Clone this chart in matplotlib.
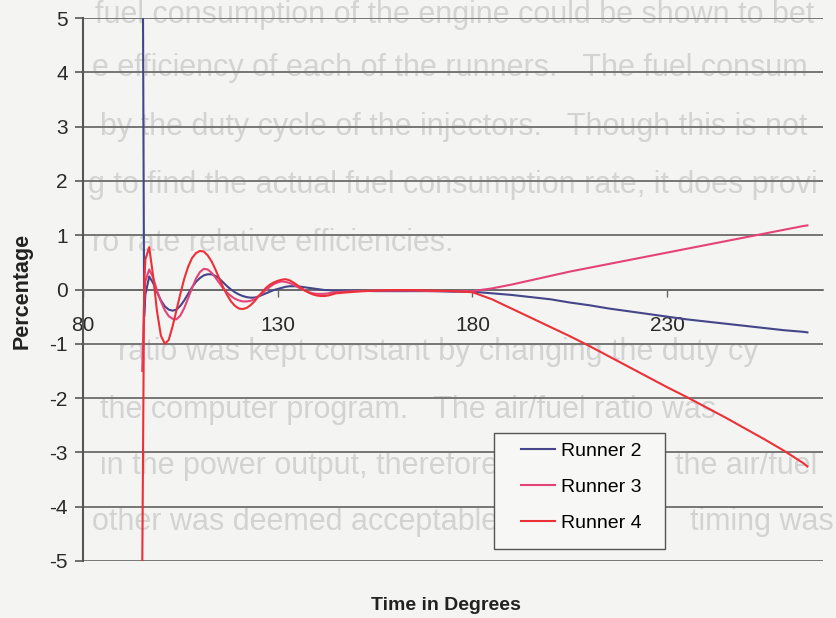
import matplotlib
matplotlib.use("Agg")
import matplotlib.pyplot as plt
from matplotlib.patches import Rectangle

plt.rcParams['font.family'] = ['Liberation Sans', 'DejaVu Sans']
plt.rcParams['axes.unicode_minus'] = False

# Crank angle (degrees)
degrees = [95.2, 95.7, 96, 97, 98, 99, 100, 101, 102, 103, 104, 105, 106, 107, 108,
           109, 110, 111, 112, 113, 114, 115, 116, 117, 118, 119, 120, 121, 122,
           123, 124, 125, 126, 127, 128, 129, 130, 131, 132, 133, 134, 135, 136,
           137, 138, 139, 140, 141, 142, 143, 144, 145, 150, 155, 160, 165, 170,
           175, 180, 185, 190, 195, 200, 205, 210, 215, 220, 225, 230, 235, 240,
           245, 250, 255, 260, 265, 266]

runner2 = [9.0, -0.50, -0.10, 0.24, 0.12, -0.05, -0.20, -0.31, -0.37, -0.39, -0.37,
           -0.30, -0.20, -0.08, 0.04, 0.14, 0.21, 0.26, 0.28, 0.28, 0.25, 0.20, 0.13,
           0.06, 0.00, -0.05, -0.09, -0.12, -0.14, -0.15, -0.15, -0.13, -0.10, -0.07,
           -0.04, -0.01, 0.01, 0.03, 0.05, 0.06, 0.06, 0.06, 0.05, 0.04, 0.03, 0.02,
           0.01, 0.00, -0.01, -0.01, -0.02, -0.02, -0.02, -0.03, -0.03, -0.03, -0.03,
           -0.04, -0.04, -0.07, -0.10, -0.14, -0.18, -0.24, -0.29, -0.35, -0.40,
           -0.45, -0.50, -0.55, -0.59, -0.63, -0.67, -0.71, -0.75, -0.78, -0.79]

runner3 = [-1.5, -0.20, 0.15, 0.37, 0.22, -0.02, -0.22, -0.38, -0.49, -0.54, -0.55,
           -0.48, -0.34, -0.16, 0.03, 0.20, 0.32, 0.38, 0.37, 0.31, 0.22, 0.12, 0.02,
           -0.06, -0.12, -0.17, -0.20, -0.22, -0.22, -0.21, -0.18, -0.13, -0.07,
           -0.01, 0.05, 0.10, 0.13, 0.15, 0.14, 0.12, 0.09, 0.05, 0.01, -0.02, -0.05,
           -0.07, -0.08, -0.08, -0.08, -0.07, -0.06, -0.05, -0.03, -0.02, -0.02,
           -0.02, -0.03, -0.03, -0.03, 0.02, 0.09, 0.17, 0.25, 0.33, 0.40, 0.47,
           0.54, 0.61, 0.68, 0.75, 0.82, 0.89, 0.96, 1.03, 1.10, 1.17, 1.18]

runner4 = [-5.3, 0.05, 0.55, 0.78, 0.25, -0.40, -0.85, -1.00, -0.93, -0.68, -0.38,
           -0.08, 0.20, 0.42, 0.58, 0.67, 0.71, 0.70, 0.63, 0.52, 0.37, 0.20, 0.04,
           -0.10, -0.22, -0.30, -0.35, -0.36, -0.34, -0.29, -0.22, -0.13, -0.05,
           0.03, 0.09, 0.13, 0.16, 0.18, 0.19, 0.17, 0.13, 0.08, 0.03, -0.02, -0.06,
           -0.09, -0.11, -0.12, -0.12, -0.11, -0.09, -0.07, -0.04, -0.02, -0.01,
           -0.01, -0.02, -0.03, -0.05, -0.18, -0.35, -0.52, -0.69, -0.86, -1.04,
           -1.23, -1.42, -1.61, -1.80, -1.98, -2.17, -2.36, -2.56, -2.76, -2.97,
           -3.20, -3.26]

series_names = ["Runner 2", "Runner 3", "Runner 4"]
series_colors = ["#45458a", "#e4437a", "#ec3038"]
x_ticks = [80, 130, 180, 230]
y_ticks = [-5, -4, -3, -2, -1, 0, 1, 2, 3, 4, 5]

# Report text printed on the same page, around and behind the chart
page_lines = [
    (15, 95, "fuel consumption of the engine could be shown to bet"),
    (68, 92, "e efficiency of each of the runners.   The fuel consum"),
    (127, 100, "by the duty cycle of the injectors.   Though this is not"),
    (185, 88, "g to find the actual fuel consumption rate, it does provi"),
    (243, 92, "ro rate relative efficiencies."),
    (352, 118, "ratio was kept constant by changing the duty cy"),
    (410, 100, "the computer program.   The air/fuel ratio was"),
    (466, 100, "in the power output, therefore"),
    (466, 675, "the air/fuel"),
    (522, 92, "other was deemed acceptable."),
    (522, 690, "timing was"),
]

W, H = 837, 618
fig = plt.figure(figsize=(W / 100, H / 100), dpi=100)
fig.patch.set_facecolor("#f4f4f2")

for ypx, xpx, line in page_lines:
    fig.text(xpx / W, 1 - ypx / H, line, fontsize=22, color="#d3d3d3",
             ha="left", va="center", zorder=-1)

ax = fig.add_axes([83 / W, 57 / H, 740 / W, 543 / H])
ax.set_facecolor("none")
ax.set_xlim(80, 270)
ax.set_ylim(-5, 5)

for vals, name, col in zip([runner2, runner3, runner4], series_names, series_colors):
    ax.plot(degrees, vals, color=col, lw=1.5, label=name, zorder=3)

ax.set_yticks(y_ticks)
ax.set_xticks(x_ticks)
ax.yaxis.grid(True, color="#767676", lw=1.4)
ax.set_axisbelow(True)

for s in ["top", "right"]:
    ax.spines[s].set_visible(False)
ax.spines["bottom"].set_position(("data", 0))
ax.spines["bottom"].set_color("#6a6a6a")
ax.spines["left"].set_color("#555555")
ax.spines["left"].set_linewidth(1.5)
ax.spines["bottom"].set_linewidth(1.2)

ax.tick_params(axis="y", direction="out", length=6, width=1.3, color="#666666",
               labelsize=15, pad=5, labelcolor="#2a2a2a")
ax.tick_params(axis="x", direction="out", length=5, width=1.0, color="#666666",
               labelsize=15, pad=14, labelcolor="#2a2a2a")

fig.text(446 / W, 1 - 605 / H, "Time in Degrees", fontsize=14, fontweight="bold",
         ha="center", va="center", color="#222222")
fig.text(22 / W, 1 - 291 / H, "Percentage", fontsize=15.5, fontweight="bold",
         rotation=90, ha="center", va="center", color="#222222")

# Legend box with its entries
ax.add_patch(Rectangle((494 / W, 1 - 549 / H), 171 / W, 116 / H,
                       transform=fig.transFigure, clip_on=False,
                       facecolor="#f7f7f5", edgecolor="#555555", lw=1.0, zorder=4))
leg = ax.legend(loc="upper left", bbox_to_anchor=(521 / W, 1 - 442 / H),
                bbox_transform=fig.transFigure, fontsize=14, frameon=False,
                handlelength=1.75, handletextpad=0.3, labelspacing=0.95,
                borderpad=0, borderaxespad=0)
leg.set_zorder(5)

fig.savefig("out.png", dpi=100, facecolor=fig.get_facecolor())
